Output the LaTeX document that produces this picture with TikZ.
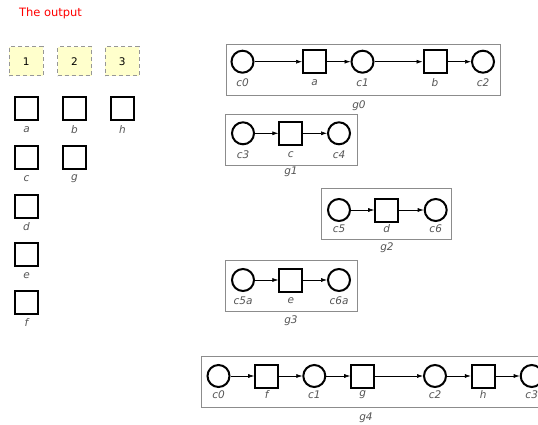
\documentclass[tikz,border=0pt]{standalone}
\usepackage{fontspec}
\setmainfont{DejaVu Sans}
\usetikzlibrary{arrows.meta}
\definecolor{boxgrey}{HTML}{8C8C8C}
\definecolor{lblgrey}{HTML}{555555}
\definecolor{pale}{HTML}{FFFFCC}
\tikzset{
  place/.style={circle,draw=black,line width=2pt,minimum size=22pt,inner sep=0pt},
  trans/.style={rectangle,draw=black,line width=2pt,minimum size=23pt,inner sep=0pt},
  lbl/.style={font=\fontsize{10.5}{12}\selectfont\itshape,text=lblgrey,inner sep=0pt},
  grp/.style={draw=boxgrey,line width=0.9pt},
  slot/.style={draw=boxgrey!90,dash pattern=on 4pt off 3pt,line width=0.9pt,fill=pale,minimum width=34pt,minimum height=29pt,inner sep=0pt,font=\fontsize{10.5}{12}\selectfont},
  arr/.style={-{Latex[length=6pt,width=4pt]},line width=0.6pt}
}
\begin{document}
\begin{tikzpicture}[x=1pt,y=-1pt]
\useasboundingbox (0,0) rectangle (538,425);
\clip (0,0) rectangle (538,425);
% title
\node[text=red,font=\fontsize{11.5}{13}\selectfont,inner sep=0pt] (title) at (50.5,13.5) {The output};
% slots
\node[slot] (s1) at (26.3,61.3) {1};
\node[slot] (s2) at (74.5,61.3) {2};
\node[slot] (s3) at (122.3,61.3) {3};
% palette squares
\node[trans] (pa) at (26.5,109) {}; \node[lbl] (pal) at (26.5,130) {a};
\node[trans] (pb) at (74.5,109) {}; \node[lbl] (pbl) at (74.5,130) {b};
\node[trans] (ph) at (122.5,109) {}; \node[lbl] (phl) at (122.5,130) {h};
\node[trans] (pc) at (26.5,157.5) {}; \node[lbl] (pcl) at (26.5,178.5) {c};
\node[trans] (pg) at (74.5,157.5) {}; \node[lbl] (pgl) at (74.5,178.5) {g};
\node[trans] (pd) at (26.5,206) {}; \node[lbl] (pdl) at (26.5,227) {d};
\node[trans] (pe) at (26.5,254.5) {}; \node[lbl] (pel) at (26.5,275.5) {e};
\node[trans] (pf) at (26.5,302) {}; \node[lbl] (pfl) at (26.5,323) {f};
% g0
\draw[grp] (226,44.7) rectangle (500,95);
\node[place] (g0c0) at (242.5,61.7) {};
\node[trans] (g0a) at (314.5,61.7) {};
\node[place] (g0c1) at (362.5,61.7) {};
\node[trans] (g0b) at (435,61.7) {};
\node[place] (g0c2) at (483,61.7) {};
\draw[arr] (g0c0) -- (g0a); \draw[arr] (g0a) -- (g0c1);
\draw[arr] (g0c1) -- (g0b); \draw[arr] (g0b) -- (g0c2);
\node[lbl] (l0a) at (242.5,83) {c0};
\node[lbl] (l0b) at (314.5,83) {a};
\node[lbl] (l0c) at (362.5,83) {c1};
\node[lbl] (l0d) at (435,83) {b};
\node[lbl] (l0e) at (483,83) {c2};
\node[lbl] (g0l) at (359,106) {g0};
% g1
\draw[grp] (225.7,114.7) rectangle (357.7,165.7);
\node[place] (g1c3) at (243,133.3) {};
\node[trans] (g1c) at (290.8,133.3) {};
\node[place] (g1c4) at (339,133.3) {};
\draw[arr] (g1c3) -- (g1c); \draw[arr] (g1c) -- (g1c4);
\node[lbl] (l1a) at (243,155) {c3};
\node[lbl] (l1b) at (290.8,155) {c};
\node[lbl] (l1c) at (339,155) {c4};
\node[lbl] (g1l) at (291,172) {g1};
% g2
\draw[grp] (321.7,188.7) rectangle (451,239.3);
\node[place] (g2c5) at (339,210) {};
\node[trans] (g2d) at (386.7,210) {};
\node[place] (g2c6) at (435.7,210) {};
\draw[arr] (g2c5) -- (g2d); \draw[arr] (g2d) -- (g2c6);
\node[lbl] (l2a) at (339,228.7) {c5};
\node[lbl] (l2b) at (386.7,228.7) {d};
\node[lbl] (l2c) at (435.7,228.7) {c6};
\node[lbl] (g2l) at (387,248) {g2};
% g3
\draw[grp] (225.7,260.7) rectangle (357.7,311);
\node[place] (g3c5a) at (243,280) {};
\node[trans] (g3e) at (290.8,280) {};
\node[place] (g3c6a) at (339,280) {};
\draw[arr] (g3c5a) -- (g3e); \draw[arr] (g3e) -- (g3c6a);
\node[lbl] (l3a) at (243,301) {c5a};
\node[lbl] (l3b) at (290.8,301) {e};
\node[lbl] (l3c) at (339,301) {c6a};
\node[lbl] (g3l) at (291,321) {g3};
% g4
\draw[grp] (201.7,356.7) rectangle (549,407.7);
\node[place] (g4c0) at (218.5,376) {};
\node[trans] (g4f) at (266.7,376) {};
\node[place] (g4c1) at (314.3,376) {};
\node[trans] (g4g) at (362.7,376) {};
\node[place] (g4c2) at (435,376) {};
\node[trans] (g4h) at (483.3,376) {};
\node[place] (g4c3) at (531.7,376) {};
\draw[arr] (g4c0) -- (g4f); \draw[arr] (g4f) -- (g4c1);
\draw[arr] (g4c1) -- (g4g); \draw[arr] (g4g) -- (g4c2);
\draw[arr] (g4c2) -- (g4h); \draw[arr] (g4h) -- (g4c3);
\node[lbl] (l4a) at (218.5,395) {c0};
\node[lbl] (l4b) at (266.7,395) {f};
\node[lbl] (l4c) at (314.3,395) {c1};
\node[lbl] (l4d) at (362.7,395) {g};
\node[lbl] (l4e) at (435,395) {c2};
\node[lbl] (l4f) at (483.3,395) {h};
\node[lbl] (l4g) at (531.7,395) {c3};
\node[lbl] (g4l) at (366,417.7) {g4};
\end{tikzpicture}
\end{document}
